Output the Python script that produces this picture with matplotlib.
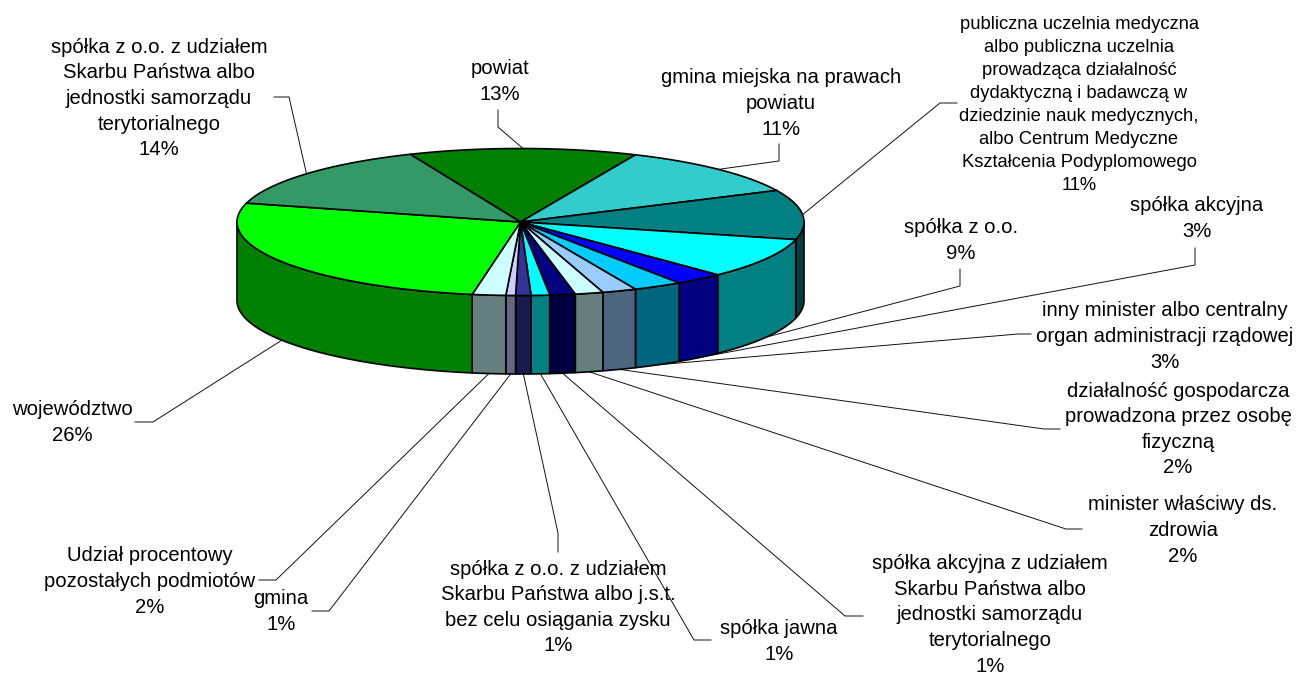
"""3D-style pie of entity shares, drawn on a pixel-sized axes."""

import matplotlib

matplotlib.use("Agg")
import matplotlib.pyplot as plt
import numpy as np
from matplotlib.colors import to_rgb
from matplotlib.patches import Polygon

plt.rcParams["font.family"] = ["Liberation Sans", "DejaVu Sans"]

# Clockwise from the first slice
LABELS = [
    "powiat\n13%",
    "gmina miejska na prawach\npowiatu\n11%",
    "publiczna uczelnia medyczna\nalbo publiczna uczelnia\nprowadząca działalność\n"
    "dydaktyczną i badawczą w\ndziedzinie nauk medycznych,\nalbo Centrum Medyczne\n"
    "Kształcenia Podyplomowego\n11%",
    "spółka z o.o.\n9%",
    "spółka akcyjna\n3%",
    "inny minister albo centralny\norgan administracji rządowej\n3%",
    "działalność gospodarcza\nprowadzona przez osobę\nfizyczną\n2%",
    "minister właściwy ds.\nzdrowia\n2%",
    "spółka akcyjna z udziałem\nSkarbu Państwa albo\njednostki samorządu\nterytorialnego\n1%",
    "spółka jawna\n1%",
    "spółka z o.o. z udziałem\nSkarbu Państwa albo j.s.t.\nbez celu osiągania zysku\n1%",
    "gmina\n1%",
    "Udział procentowy\npozostałych podmiotów\n2%",
    "województwo\n26%",
    "spółka z o.o. z udziałem\nSkarbu Państwa albo\njednostki samorządu\nterytorialnego\n14%",
]
SHARES = [13.0, 11.3, 10.9, 8.9, 2.8, 2.8, 1.95, 1.6, 1.45, 1.05, 0.87, 0.55, 1.9, 26.4, 14.5]
COLORS = [
    "#008000", "#33CCCC", "#008080", "#00FFFF", "#0000FF",
    "#00CCFF", "#99CCFF", "#CCFFFF", "#000080", "#00FFFF",
    "#333399", "#CCCCFF", "#CCFFFF", "#00FF00", "#339966",
]

# Label block centres (px)
LABEL_X = [500, 781, 1079, 961, 1197, 1165, 1178, 1183, 990, 779, 558, 281, 150, 72, 159]
LABEL_Y = [81.5, 103.5, 105, 240.5, 218.5, 336.5, 429.5, 530.5, 615, 641.5, 607.5, 611.5, 581.5, 422.5, 98.5]
LABEL_SIZE = [14.6, 14.6, 13.2, 14.6, 14.6, 14.6, 14.6, 14.6, 14.6, 14.6, 14.6, 14.6, 14.6, 14.6, 14.6]
LABEL_SPACING = [1.44, 1.44, 1.46, 1.44, 1.44, 1.44, 1.44, 1.44, 1.44, 1.44, 1.44, 1.44, 1.44, 1.44, 1.44]

# Leader lines: label end, then elbow (px)
LEADER_END = [(498, 110), (779, 144), (957, 103), (960, 269), (1195, 248), (1031, 334), (1060, 429),
              (1082, 529), (863, 616), (711, 640), (558, 552), (312, 611), (259, 580), (135, 422), (274, 97)]
LEADER_ELBOW = [(498, 127), (779, 161), (940, 103), (960, 286), (1195, 265), (1018, 334), (1044, 429),
                (1066, 529), (845, 616), (694, 640), (558, 533), (329, 611), (276, 580), (153, 422), (289, 97)]

CX, CY = 520.5, 222.0
RX, RY = 283.5, 73.5
DEPTH = 78.5
START_DEG = -22.9


def rim(phi_deg, drop=0.0):
    """Point on the ellipse, phi measured clockwise from the top."""
    phi = np.radians(phi_deg)
    return CX + RX * np.sin(phi), CY - RY * np.cos(phi) + drop


def arc(a, b):
    phi = np.linspace(a, b, max(int(abs(b - a) * 2), 2) + 1)
    return np.column_stack(rim(phi))


fig = plt.figure(figsize=(12.96, 6.75), dpi=100)
ax = fig.add_axes([0, 0, 1, 1])
ax.set_xlim(0, 1296)
ax.set_ylim(675, 0)
ax.axis("off")

sweep = np.array(SHARES) / sum(SHARES) * 360
edges = START_DEG + np.concatenate([[0], np.cumsum(sweep)])

for i, color in enumerate(COLORS):
    a, b = edges[i], edges[i + 1]
    mid = (a + b) / 2

    # leader sits under the pie, anchored at the rim of the slice
    front = np.cos(np.radians(mid)) < 0
    ax_pt = rim(mid, DEPTH if front else 0.0)
    xs = [LEADER_END[i][0], LEADER_ELBOW[i][0], ax_pt[0]]
    ys = [LEADER_END[i][1], LEADER_ELBOW[i][1], ax_pt[1]]
    ax.plot(xs, ys, color="#111111", lw=0.7, zorder=1)

    # side wall, only the front half of the rim shows
    lo, hi = max(a, 90), min(b, 270)
    if hi > lo:
        top = arc(lo, hi)
        bottom = top[::-1] + [0, DEPTH]
        side = tuple(c / 2 for c in to_rgb(color))
        ax.add_patch(Polygon(np.vstack([top, bottom]), closed=True, fc=side, ec="black", lw=1.2,
                             joinstyle="round", zorder=2))

    # top face
    face = np.vstack([[CX, CY], arc(a, b)])
    ax.add_patch(Polygon(face, closed=True, fc=color, ec="black", lw=1.2, joinstyle="round", zorder=3))

    ax.text(LABEL_X[i], LABEL_Y[i], LABELS[i], ha="center", va="center", fontsize=LABEL_SIZE[i],
            linespacing=LABEL_SPACING[i], color="black", zorder=4)

fig.savefig("out.png", dpi=100)
